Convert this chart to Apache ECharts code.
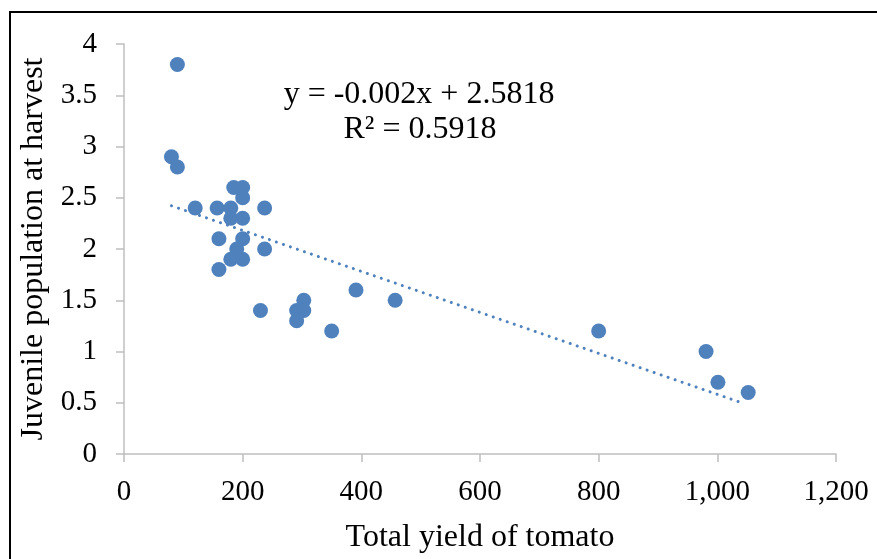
<!DOCTYPE html>
<html>
<head>
<meta charset="utf-8">
<script src="https://cdn.jsdelivr.net/npm/echarts@6/dist/echarts.min.js"></script>
<style>
html,body{margin:0;padding:0;background:#fff;overflow:hidden;}
#frame{position:absolute;left:9px;top:11px;width:900px;height:600px;border-top:2px solid #000;border-left:2px solid #000;}
#chart{position:absolute;left:0;top:0;width:877px;height:559px;}
</style>
</head>
<body>
<div id="frame"></div>
<div id="chart"></div>
<script>
const yieldX = [90, 80, 90, 185, 200, 200, 120, 157, 180, 237, 180, 200, 160, 200, 190, 237, 180, 200, 160, 230, 303, 291, 303, 291, 350, 391, 457, 800, 981, 1001, 1052];
const juvenileY = [3.8, 2.9, 2.8, 2.6, 2.6, 2.5, 2.4, 2.4, 2.4, 2.4, 2.3, 2.3, 2.1, 2.1, 2.0, 2.0, 1.9, 1.9, 1.8, 1.4, 1.5, 1.4, 1.4, 1.3, 1.2, 1.6, 1.5, 1.2, 1.0, 0.7, 0.6];
const slope = -0.002, intercept = 2.5818;
const equationText = 'y = -0.002x + 2.5818';
const r2Text = 'R² = 0.5918';
const xTitle = 'Total yield of tomato';
const yTitle = 'Juvenile population at harvest';

const pts = yieldX.map((x, i) => [x, juvenileY[i]]);
const xmin = Math.min(...yieldX), xmax = Math.max(...yieldX) - 10;
const trend = [[xmin, slope * xmin + intercept], [xmax, slope * xmax + intercept]];

const font = 'Liberation Serif, Times New Roman, serif';
const chart = echarts.init(document.getElementById('chart'));
chart.setOption({
  animation: false,
  grid: {left: 124, right: 41, top: 44, bottom: 103},
  xAxis: {
    type: 'value', min: 0, max: 1200, interval: 200,
    name: xTitle, nameLocation: 'middle', nameGap: 68,
    nameTextStyle: {fontFamily: font, fontSize: 32, color: '#000'},
    axisLine: {show: true, lineStyle: {color: '#bfbfbf', width: 1.5}},
    axisTick: {show: true, length: 8, lineStyle: {color: '#bfbfbf', width: 1.5}},
    splitLine: {show: false},
    axisLabel: {fontFamily: font, fontSize: 29, color: '#000', margin: 24,
      formatter: v => v.toLocaleString('en-US')}
  },
  yAxis: {
    type: 'value', min: 0, max: 4, interval: 0.5,
    name: yTitle, nameLocation: 'middle', nameGap: 71,
    nameTextStyle: {fontFamily: font, fontSize: 32, color: '#000'},
    axisLine: {show: true, lineStyle: {color: '#bfbfbf', width: 1.5}},
    axisTick: {show: true, length: 8, lineStyle: {color: '#bfbfbf', width: 1.5}},
    splitLine: {show: false},
    axisLabel: {fontFamily: font, fontSize: 29, color: '#000', margin: 27}
  },
  series: [
    {
      type: 'line', data: trend, symbol: 'none', silent: true, z: 1,
      lineStyle: {color: '#4f81bd', width: 3, type: [0.1, 7.3], cap: 'round'}
    },
    {
      type: 'scatter', data: pts, symbol: 'circle', symbolSize: 15, z: 2,
      itemStyle: {color: '#4f81bd', opacity: 1}
    }
  ],
  graphic: [
    {type: 'text', x: 419, y: 79, style: {text: equationText, font: '32px ' + font, fill: '#000', textAlign: 'center'}},
    {type: 'text', x: 420, y: 114, style: {text: r2Text, font: '32px ' + font, fill: '#000', textAlign: 'center'}}
  ]
});
</script>
</body>
</html>
